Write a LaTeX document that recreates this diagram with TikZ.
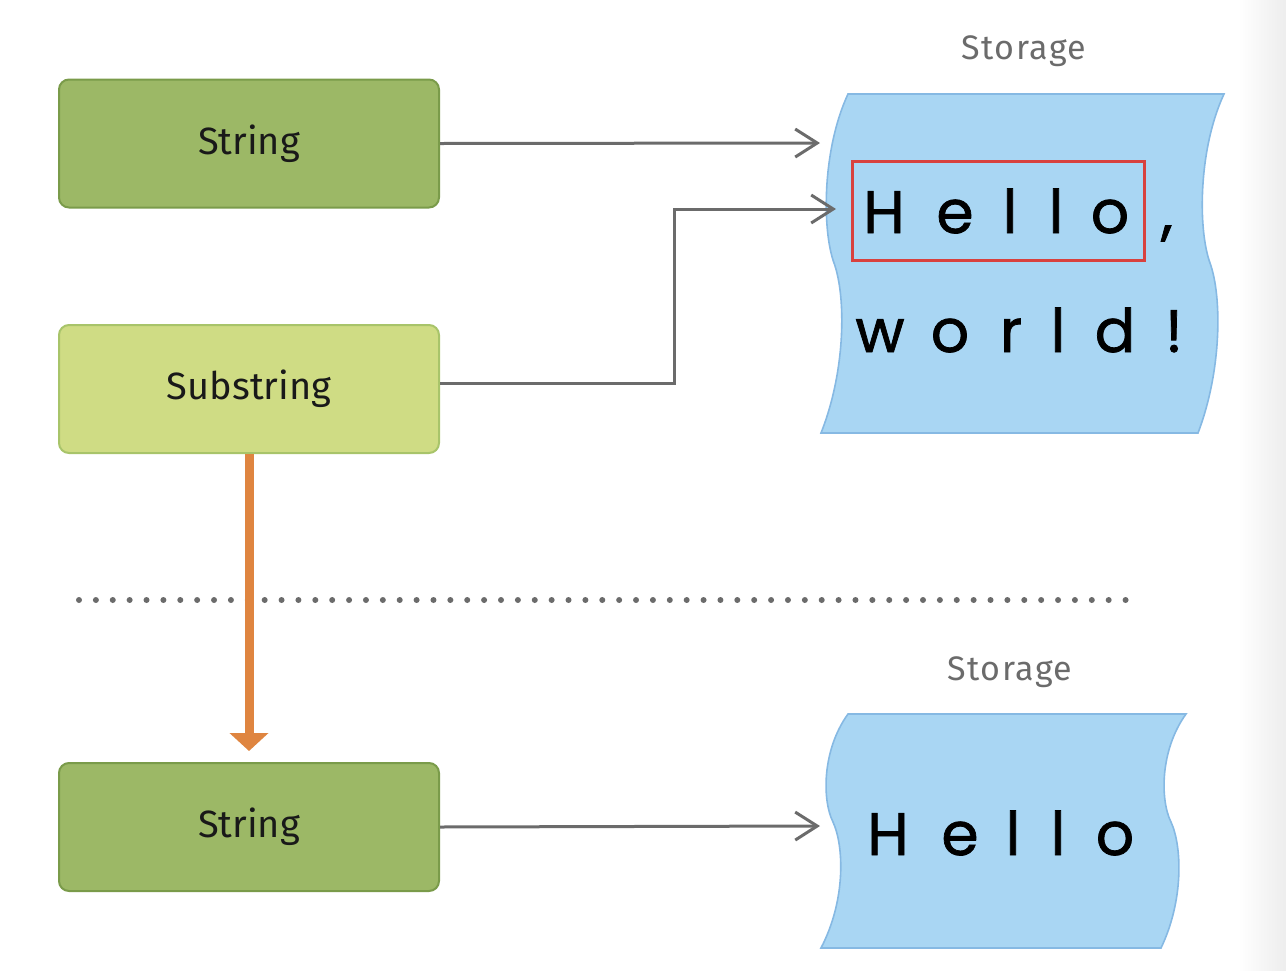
\documentclass[tikz,border=0pt]{standalone}
\usepackage{fontspec}
\setmainfont{Fira Sans}
\newfontfamily\tapefont[FakeBold=1.2]{Poppins}
\usetikzlibrary{arrows.meta,positioning}
\definecolor{stringgreen}{HTML}{9CB866}
\definecolor{stringedge}{HTML}{7A9B4A}
\definecolor{subgreen}{HTML}{CFDC84}
\definecolor{subedge}{HTML}{A8C46A}
\definecolor{tapeblue}{HTML}{A9D6F3}
\definecolor{tapeedge}{HTML}{86B9E3}
\definecolor{pointergray}{HTML}{6B6B6B}
\definecolor{copyorange}{HTML}{DF8540}
\definecolor{rangered}{HTML}{D8413E}
\tikzset{
  strbox/.style={draw=stringedge, fill=stringgreen, line width=1pt, rounded corners=5pt,
    minimum width=190pt, minimum height=64pt, font=\fontsize{19}{22}\selectfont, text=black!90},
  subbox/.style={strbox, draw=subedge, fill=subgreen},
  tape/.style={draw=tapeedge, fill=tapeblue, line width=0.8pt},
  letter/.style={anchor=base, inner sep=0pt, font=\tapefont\fontsize{30}{34}\selectfont},
  storagelbl/.style={anchor=base, inner sep=0pt, font=\fontsize{17}{20}\selectfont\addfontfeature{LetterSpace=4}, text=black!58},
  pointer/.style={draw=pointergray, line width=1.5pt, -{Straight Barb[length=11pt,width=14pt,line width=1.5pt]}},
  copyarrow/.style={draw=copyorange, line width=4.5pt, -{Triangle[length=9pt,width=19pt]}},
}
\begin{document}
\begin{tikzpicture}[x=0.5pt,y=-0.5pt]
            \useasboundingbox (0,0) rectangle (1286,970);
            \shade[left color=white, right color=black!7] (1238,0) rectangle (1286,970);

            % Values
            \node[strbox] (str1) at (249,143.5) {String};
            \node[subbox] (sub) at (249,389) {Substring};
            \node[strbox] (str2) at (249,827) {String};

            % Storage buffers
            \node[storagelbl] (lbl1) at (1024,59) {Storage};
            \draw[tape] (848,94) -- (1224,94)
              .. controls (1198,150) and (1198,230) .. (1210,263)
              .. controls (1222,296) and (1222,370) .. (1198,433)
              -- (821,433)
              .. controls (846,370) and (846,296) .. (834,263)
              .. controls (822,230) and (822,150) .. (848,94) -- cycle;
            \draw[rangered, line width=1.5pt] (852,161) rectangle (1144,260);
            \node[letter] (h1) at (884,233) {H};
            \node[letter] (e1) at (955,233) {e};
            \node[letter] (l1) at (1010,233) {l};
            \node[letter] (l2) at (1056,233) {l};
            \node[letter] (o1) at (1110,233) {o};
            \node[letter] (cm) at (1167,233) {,};
            \node[letter] (w1) at (880,352) {w};
            \node[letter] (o2) at (950,352) {o};
            \node[letter] (r1) at (1011,352) {r};
            \node[letter] (l3) at (1058,352) {l};
            \node[letter] (d1) at (1115,352) {d};
            \node[letter] (ex) at (1174,352) {!};
            \coordinate (tape1top) at (820,143);
            \coordinate (tape1hello) at (836,209);

            \node[storagelbl] (lbl2) at (1010,680) {Storage};
            \draw[tape] (848,714) -- (1186,714)
              .. controls (1160,750) and (1160,800) .. (1171,822)
              .. controls (1182,846) and (1184,900) .. (1161,948)
              -- (821,948)
              .. controls (846,900) and (844,846) .. (833,822)
              .. controls (822,800) and (822,750) .. (848,714) -- cycle;
            \node[letter] (h2) at (888,855) {H};
            \node[letter] (e2) at (960,855) {e};
            \node[letter] (l4) at (1013,855) {l};
            \node[letter] (l5) at (1058,855) {l};
            \node[letter] (o3) at (1115,855) {o};
            \coordinate (tape2top) at (820,826);

            % Separator
            \draw[pointergray, line width=3pt, line cap=round, dash pattern=on 0pt off 8.44pt] (79,600) -- (1126,600);

            % Pointers
            \draw[pointer] (str1.east) -- (tape1top);
            \draw[pointer] ([yshift=3pt]sub.east) -- ++(234,0) |- (tape1hello);
            \draw[pointer] (str2.east) -- (tape2top);
            \draw[copyarrow, shorten >=5.5pt] (sub.south) -- (str2.north);
        \end{tikzpicture}
\end{document}
